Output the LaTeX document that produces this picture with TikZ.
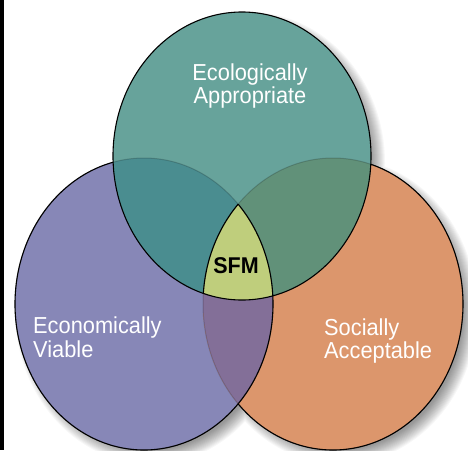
\documentclass[tikz,border=0pt]{standalone}
\usepackage{fontspec}
\setmainfont{Liberation Sans}
\begin{document}
\begin{tikzpicture}[x=1pt,y=-1pt,
  lbl/.style={text=white, inner sep=0pt, yscale=1.06, font=\fontsize{21.8}{22.5}\selectfont},
  faint/.style={draw=black, draw opacity=0.18, line width=1pt},
  edge/.style={draw=black, line width=1.1pt}]
\definecolor{cTeal}{HTML}{67A39B}
\definecolor{cPurple}{HTML}{8787B7}
\definecolor{cOrange}{HTML}{DC966C}
\definecolor{cTP}{HTML}{4A8D90}
\definecolor{cTO}{HTML}{619179}
\definecolor{cPO}{HTML}{836F98}
\definecolor{cSFM}{HTML}{BFCE7C}
\def\Top{(242,156) ellipse [x radius=129, y radius=144]}
\def\Left{(144,304) ellipse [x radius=129, y radius=146]}
\def\Right{(333,304) ellipse [x radius=130, y radius=146]}
\def\Big{(-20,-20) rectangle (490,470)}
\useasboundingbox (0,0) rectangle (468,450);
\fill[white] (0,0) rectangle (468,450);
% shadow
\foreach \k in {-7,...,7}{
  \fill[black, opacity=0.03]
    (249,163) ellipse [x radius=129+\k, y radius=144+\k]
    (151,311) ellipse [x radius=129+\k, y radius=146+\k]
    (340,311) ellipse [x radius=130+\k, y radius=146+\k];
}
% regions
\fill[cPurple] \Left;
\fill[cOrange] \Right;
\fill[cTeal] \Top;
\begin{scope}
  \clip \Left;
  \fill[cPO] \Right;
  \fill[cTP] \Top;
\end{scope}
\begin{scope}
  \clip \Right;
  \fill[cTO] \Top;
  \clip \Left;
  \fill[cSFM] \Top;
\end{scope}
% outlines
\path[faint] \Left;
\path[faint] \Right;
\path[edge] \Top;
\begin{scope}[even odd rule]
  \clip \Big \Top;
  \path[edge] \Left;
  \clip \Big \Left;
  \path[edge] \Right;
\end{scope}
\begin{scope}
  \clip \Top;
  \begin{scope}
    \clip \Right;
    \path[edge] \Left;
  \end{scope}
  \begin{scope}
    \clip \Left;
    \path[edge] \Right;
  \end{scope}
\end{scope}
% left strip
\fill[black] (0,0) rectangle (3.5,450);
% labels
\node[lbl, align=center] (eco) at (250,86) {Ecologically\\Appropriate};
\node[lbl, align=left, anchor=west] (econ) at (33,337) {Economically\\Viable};
\node[lbl, align=left, anchor=west] (soc) at (324,341) {Socially\\Acceptable};
\node[inner sep=0pt, yscale=1.06, font=\fontsize{21.5}{24}\selectfont\bfseries] (sfm) at (236,266) {SFM};
\end{tikzpicture}
\end{document}
